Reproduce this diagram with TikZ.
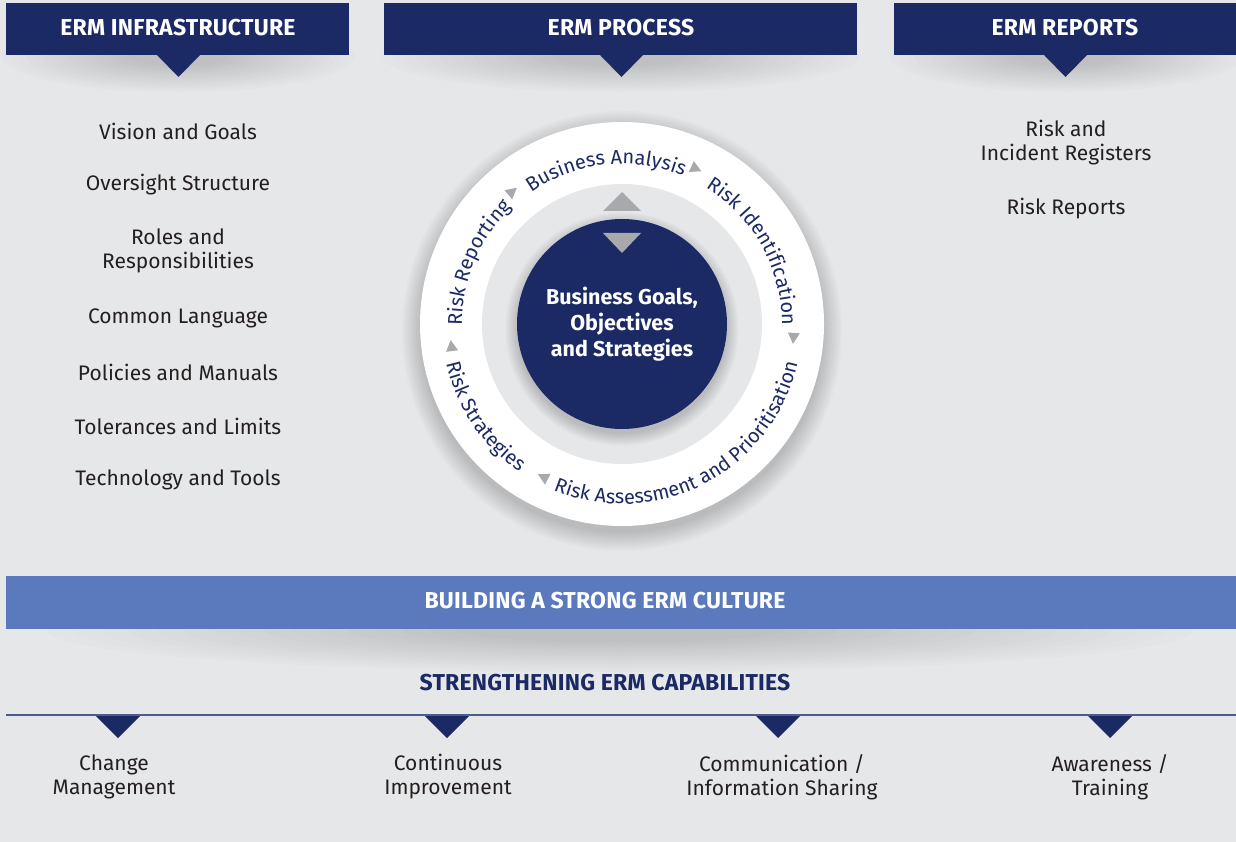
\documentclass[tikz,border=0pt]{standalone}
\usepackage{fontspec}
\setmainfont{Fira Sans}
\usepackage{tikz}
\usetikzlibrary{positioning, decorations.text}
\definecolor{ermnavy}{RGB}{27, 42, 101}
\definecolor{ermblue}{RGB}{90, 122, 189}
\definecolor{ermbg}{RGB}{230, 231, 232}
\definecolor{ermgray}{RGB}{167, 169, 172}
\definecolor{ermtext}{RGB}{35, 31, 32}
\definecolor{ermline}{RGB}{77, 92, 140}
\definecolor{ermshade}{RGB}{186, 187, 189}
\newcommand{\ermhead}{\fontsize{23}{26}\selectfont\bfseries\addfontfeature{LetterSpace=1}}
\newcommand{\ermitem}{\fontsize{21}{24}\selectfont}
\newcommand{\ermcirc}{\fontsize{20}{22}\selectfont}
\newcommand{\ermgoal}{\fontsize{21.5}{26}\selectfont\bfseries}
% soft shadow: centre x, centre y, x radius, y radius
\newcommand{\ermglow}[4]{%
  \foreach \i [evaluate=\i as \p using \i*5.5] in {0,...,16}
    \fill[ermshade!\p!ermbg] (#1,#2) ellipse[x radius={#3*(1-\i/22)*1pt}, y radius={#4*(1-\i/22)*1pt}];}

\begin{document}
\begin{tikzpicture}[x=1pt, y=-1pt, every node/.style={align=center, font=\ermitem, text=ermtext}]
    \useasboundingbox (0,0) rectangle (1236,842);
    \fill[ermbg] (0,0) rectangle (1236,842);

    % header shadows
    \ermglow{178}{56}{185}{38}
    \ermglow{621}{56}{250}{38}
    \ermglow{1066}{56}{185}{38}

    % headers
    \fill[ermnavy] (6,3) rectangle (349,55);
    \fill[ermnavy] (157,55) -- (200,55) -- (178.5,77) -- cycle;
    \fill[ermnavy] (384,3) rectangle (857,55);
    \fill[ermnavy] (600,55) -- (643,55) -- (621.5,77) -- cycle;
    \fill[ermnavy] (894,3) rectangle (1236,55);
    \fill[ermnavy] (1044,55) -- (1087,55) -- (1065.5,77) -- cycle;
    \node[font=\ermhead, text=white] (infra) at (178,28) {ERM INFRASTRUCTURE};
    \node[font=\ermhead, text=white] (process) at (621,28) {ERM PROCESS};
    \node[font=\ermhead, text=white] (reports) at (1065,28) {ERM REPORTS};

    % infrastructure items
    \node (vision) at (178,131) {Vision and Goals};
    \node (oversight) at (178,185) {Oversight Structure};
    \node (roles) at (178,251) {Roles and\\Responsibilities};
    \node (language) at (178,318) {Common Language};
    \node (policies) at (178,372) {Policies and Manuals};
    \node (limits) at (178,426) {Tolerances and Limits};
    \node (tools) at (178,480) {Technology and Tools};

    % report items
    \node (registers) at (1066,143) {Risk and\\Incident Registers};
    \node (riskrep) at (1066,209) {Risk Reports};

    % process wheel
    \foreach \i in {0,...,10}
      \fill[ermshade!\i0!ermbg] (622,331) circle[radius={(222-2*\i)*1pt}];
    \fill[white] (622,324) circle[radius=202pt];
    \fill[ermbg] (622,324) circle[radius=140pt];
    \foreach \i in {0,...,10}
      \fill[ermshade!\i0!ermbg] (622,329) circle[radius={(118-1.3*\i)*1pt}];
    \node[circle, fill=ermnavy, minimum size=210pt, inner sep=0pt, text=white, font=\ermgoal] (goals) at (622,324) {Business Goals,\\Objectives\\and Strategies};
    \fill[ermgray] (603,211) -- (641,211) -- (622,192) -- cycle;
    \fill[ermgray] (603,233) -- (641,233) -- (622,253) -- cycle;

    \begin{scope}[shift={(622,324)}, y=1pt]
      \path[decorate, decoration={text along path, text align=center, text color=ermnavy, text={|\ermcirc|Business Analysis}}]
        (126:160pt) arc[start angle=126, end angle=66, radius=160pt];
      \path[decorate, decoration={text along path, text align=center, text color=ermnavy, text={|\ermcirc|Risk Identification}}]
        (70:160pt) arc[start angle=70, end angle=-12, radius=160pt];
      \path[decorate, decoration={text along path, text align=center, text color=ermnavy, text={|\ermcirc|Risk Reporting}}]
        (197:160pt) arc[start angle=197, end angle=117, radius=160pt];
      \path[decorate, decoration={text along path, text align=center, text color=ermnavy, text={|\ermcirc|Risk Assessment and Prioritisation}}]
        (-132:180pt) arc[start angle=-132, end angle=7, radius=180pt];
      \path[decorate, decoration={text along path, text align=center, text color=ermnavy, text={|\ermcirc|Risk Strategies}}]
        (184:180pt) arc[start angle=184, end angle=244, radius=180pt];
      \foreach \a in {130, 64.9, -4.3, -116.9, 187.7}
        \fill[ermgray, rotate=\a] (166,4) -- (178,4) -- (172,-7) -- cycle;
    \end{scope}

    % culture band
    \ermglow{620}{630}{600}{44}
    \fill[ermblue] (6,576) rectangle (1236,629);
    \node[font=\ermhead, text=white] (culture) at (605,601) {BUILDING A STRONG ERM CULTURE};

    % capabilities
    \node[font=\ermhead, text=ermnavy] (capab) at (605,683) {STRENGTHENING ERM CAPABILITIES};
    \draw[ermline, line width=2pt] (6,715) -- (1236,715);
    \fill[ermnavy] (96,716) -- (140,716) -- (118,738) -- cycle;
    \fill[ermnavy] (425,716) -- (469,716) -- (447,738) -- cycle;
    \fill[ermnavy] (756,716) -- (800,716) -- (778,738) -- cycle;
    \fill[ermnavy] (1088,716) -- (1132,716) -- (1110,738) -- cycle;
    \node (change) at (114,777) {Change\\Management};
    \node (improve) at (448,777) {Continuous\\Improvement};
    \node (sharing) at (782,777) {Communication /\\Information Sharing};
    \node (training) at (1110,777) {Awareness /\\Training};
  \end{tikzpicture}
\end{document}
